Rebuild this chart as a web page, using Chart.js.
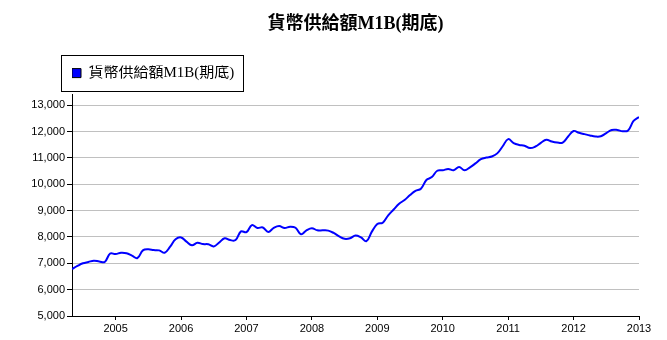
<!DOCTYPE html>
<html>
<head>
<meta charset="utf-8">
<script src="https://cdn.jsdelivr.net/npm/chart.js@4.4.0/dist/chart.umd.min.js"></script>
<style>
  html, body { margin: 0; padding: 0; background: #fff; }
  #wrap { width: 667px; height: 340px; }
</style>
</head>
<body>
<div id="wrap"><canvas id="m1bChart" width="667" height="340"></canvas></div>
<script>
// 月份 (期底)
const months = [
  '2004-05', '2004-06', '2004-07', '2004-08', '2004-09', '2004-10', '2004-11', '2004-12',
  '2005-01', '2005-02', '2005-03', '2005-04', '2005-05', '2005-06', '2005-07', '2005-08', '2005-09', '2005-10', '2005-11', '2005-12',
  '2006-01', '2006-02', '2006-03', '2006-04', '2006-05', '2006-06', '2006-07', '2006-08', '2006-09', '2006-10', '2006-11', '2006-12',
  '2007-01', '2007-02', '2007-03', '2007-04', '2007-05', '2007-06', '2007-07', '2007-08', '2007-09', '2007-10', '2007-11', '2007-12',
  '2008-01', '2008-02', '2008-03', '2008-04', '2008-05', '2008-06', '2008-07', '2008-08', '2008-09', '2008-10', '2008-11', '2008-12',
  '2009-01', '2009-02', '2009-03', '2009-04', '2009-05', '2009-06', '2009-07', '2009-08', '2009-09', '2009-10', '2009-11', '2009-12',
  '2010-01', '2010-02', '2010-03', '2010-04', '2010-05', '2010-06', '2010-07', '2010-08', '2010-09', '2010-10', '2010-11', '2010-12',
  '2011-01', '2011-02', '2011-03', '2011-04', '2011-05', '2011-06', '2011-07', '2011-08', '2011-09', '2011-10', '2011-11', '2011-12',
  '2012-01', '2012-02', '2012-03', '2012-04', '2012-05', '2012-06', '2012-07', '2012-08', '2012-09', '2012-10', '2012-11', '2012-12',
  '2013-01'
];

// 貨幣供給額M1B (期底), 單位: 十億元
const m1b = [
  6780, 6900, 7000, 7050, 7100, 7070, 7050, 7370,
  7350, 7400, 7380, 7290, 7200, 7490, 7530, 7500, 7490, 7400, 7630, 7910,
  7980, 7820, 7680, 7780, 7730, 7720, 7640, 7790, 7950, 7880, 7880, 8210,
  8180, 8450, 8340, 8360, 8190, 8340, 8410, 8340, 8390, 8350, 8100, 8250,
  8330, 8250, 8250, 8240, 8150, 8020, 7930, 7950, 8050, 7980, 7840, 8200,
  8490, 8540, 8820, 9040, 9260, 9400, 9590, 9750, 9830, 10160, 10270, 10510,
  10530, 10580, 10530, 10650, 10530, 10640, 10790, 10950, 11010, 11050, 11170, 11440,
  11710, 11560, 11490, 11460, 11370, 11430, 11570, 11690, 11620, 11580, 11580, 11810,
  12020, 11950, 11900, 11850, 11810, 11820, 11940, 12060, 12060, 12010, 12040, 12400,
  12550
];

// x 軸年份刻度
const yearLabels = ['2005', '2006', '2007', '2008', '2009', '2010', '2011', '2012', '2013'];
// y 軸刻度
const yTicks = [5000, 6000, 7000, 8000, 9000, 10000, 11000, 12000, 13000];

const seriesName = '貨幣供給額M1B(期底)';
const serifFont = "'Liberation Serif', 'Noto Sans CJK TC', serif";
const tickFont = { family: "'Liberation Sans', Arial, sans-serif", size: 11 };

// 圖例外框
const legendFrame = {
  id: 'legendFrame',
  afterDraw(chart) {
    const hit = chart.legend.legendHitBoxes[0];
    if (!hit) return;
    const c = chart.ctx;
    const hy = Math.round(hit.top);
    const left = Math.round(hit.left) - 11 + 0.5;
    const top = hy - 11 + 0.5;
    const right = Math.round(hit.left + hit.width + 9) + 0.5;
    const bottom = hy + 25 + 0.5;
    c.save();
    c.strokeStyle = '#000';
    c.lineWidth = 1;
    c.strokeRect(left, top, right - left, bottom - top);
    c.restore();
  }
};

const ctx = document.getElementById('m1bChart').getContext('2d');
new Chart(ctx, {
  type: 'line',
  data: {
    datasets: [{
      label: seriesName,
      data: m1b.map((v, i) => ({ x: i, y: v })),
      borderColor: '#0000ff',
      backgroundColor: '#0000ff',
      borderWidth: 2,
      pointRadius: 0,
      tension: 0.4,
      fill: false
    }]
  },
  options: {
    responsive: false,
    animation: false,
    layout: { padding: { left: 0, right: 28, top: 0, bottom: 0 } },
    plugins: {
      title: {
        display: true,
        fullSize: false,
        text: seriesName,
        color: '#000',
        font: { family: serifFont, size: 18, weight: 'bold' },
        padding: { top: 14, bottom: 30 }
      },
      // 圖例與繪圖區之間的空隙
      subtitle: {
        display: true,
        fullSize: false,
        text: '',
        position: 'top',
        weight: 500,
        font: { size: 1, lineHeight: 1 },
        padding: { top: 3, bottom: 0 }
      },
      legend: {
        position: 'top',
        align: 'start',
        fullSize: false,
        labels: {
          boxWidth: 9,
          boxHeight: 9,
          padding: 0,
          color: '#000',
          font: { family: serifFont, size: 15 },
          generateLabels: (chart) => [{
            text: chart.data.datasets[0].label,
            fillStyle: '#0000ff',
            strokeStyle: '#000',
            lineWidth: 1,
            hidden: false,
            datasetIndex: 0
          }]
        }
      },
      tooltip: { enabled: false }
    },
    scales: {
      x: {
        type: 'linear',
        min: 0,
        max: months.length - 1,
        afterBuildTicks: (scale) => {
          scale.ticks = yearLabels.map(y => ({ value: months.indexOf(y + '-01') }));
        },
        afterFit: (scale) => { scale.height = 24; },
        ticks: {
          color: '#000',
          font: tickFont,
          padding: 2,
          maxRotation: 0,
          autoSkip: false,
          callback: (v) => months[v].slice(0, 4)
        },
        grid: {
          drawOnChartArea: false,
          drawTicks: true,
          tickLength: 4,
          tickColor: '#000'
        },
        border: { color: '#000', width: 1 }
      },
      y: {
        min: 5000,
        max: 13400,
        afterBuildTicks: (scale) => {
          scale.ticks = yTicks.map(v => ({ value: v }));
        },
        afterFit: (scale) => { scale.width = 72; },
        ticks: {
          autoSkip: false,
          color: '#000',
          font: tickFont,
          padding: 2,
          callback: (v) => v.toLocaleString('en-US')
        },
        grid: {
          color: '#c0c0c0',
          lineWidth: 1,
          drawTicks: true,
          tickLength: 5,
          tickColor: '#000'
        },
        border: { color: '#000', width: 1 }
      }
    }
  },
  plugins: [legendFrame]
});
</script>
</body>
</html>
